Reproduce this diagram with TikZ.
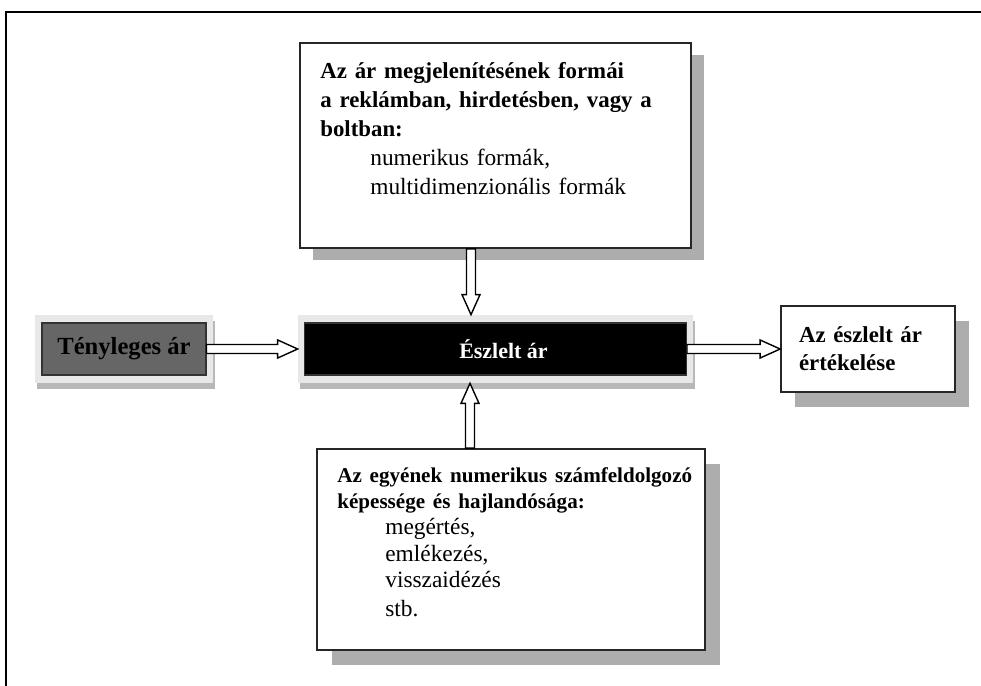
\documentclass[tikz,border=0pt]{standalone}
\usepackage{fontspec}
\setmainfont{Liberation Serif}
\usetikzlibrary{calc,positioning,shadows}

\begin{document}
\begin{tikzpicture}[x=0.02cm, y=-0.02cm,
doboz/.style={draw=black!85, line width=1pt, fill=white, inner sep=0pt},
arnyek/.style 2 args={drop shadow={shadow xshift=#1, shadow yshift=#2, fill=black!32, opacity=1}},
keret/.style={fill=black!9, draw=none, minimum width=#1, minimum height=1.36cm,
  drop shadow={shadow xshift=0.04cm, shadow yshift=-0.12cm, fill=black!28, opacity=1}},
belso/.style={draw=black!80, line width=0.6pt, minimum height=1.04cm},
szoveg/.style={anchor=base west, inner sep=0pt, align=left, text width=8cm},
ures/.style={draw=black, fill=white, line width=0.8pt,
  to path={
    ($(\tikztostart)!0.09cm!90:(\tikztotarget)$)
    -- ($($(\tikztotarget)!0.4cm!(\tikztostart)$)!0.09cm!90:(\tikztotarget)$)
    -- ($($(\tikztotarget)!0.4cm!(\tikztostart)$)!0.18cm!90:(\tikztotarget)$)
    -- (\tikztotarget)
    -- ($($(\tikztotarget)!0.4cm!(\tikztostart)$)!0.18cm!-90:(\tikztotarget)$)
    -- ($($(\tikztotarget)!0.4cm!(\tikztostart)$)!0.09cm!-90:(\tikztotarget)$)
    -- ($(\tikztostart)!0.09cm!-90:(\tikztotarget)$)
    -- cycle}}]
\useasboundingbox (0,0) rectangle (981,686);
\draw[line width=1.3pt] (6,686) -- (6,12) -- (981,12);

% boxes
\node[doboz, arnyek={0.26cm}{-0.24cm}, minimum width=7.82cm, minimum height=4.1cm] (formak) at (495.5,145.5) {};
\node[szoveg, font=\fontsize{13.3}{16.4}\selectfont] (formakszoveg) at (320,79)
  {{\fontsize{13}{16.4}\selectfont\bfseries Az ár megjelenítésének formái\\
   a reklámban, hirdetésben, vagy a\\
   boltban:}\\
   \hspace*{1cm}numerikus formák,\\
   \hspace*{1cm}multidimenzionális formák};

\node[keret=3.56cm] (tenykeret) at (124,349) {};
\node[belso, fill=black!60, minimum width=3.28cm, font=\bfseries\fontsize{14}{16}\selectfont] (teny) at (124,349) {Tényleges ár};
\node[keret=7.9cm] (eszkeret) at (495.5,349) {};
\node[belso, fill=black, text=white, minimum width=7.64cm, font=\bfseries\fontsize{12.5}{15}\selectfont] (eszlelt) at (495.5,349) {\hspace*{0.32cm}Észlelt ár};

\node[doboz, arnyek={0.28cm}{-0.3cm}, minimum width=3.48cm, minimum height=1.72cm,
  text width=2.76cm, align=left, inner xsep=0.36cm, font=\bfseries\fontsize{13}{15.9}\selectfont]
  (ertekeles) at (868,349) {Az észlelt ár\\értékelése};

\node[doboz, arnyek={0.3cm}{-0.3cm}, minimum width=7.76cm, minimum height=4.02cm] (kepesseg) at (511,549.5) {};
\node[szoveg, font=\fontsize{13.3}{15}\selectfont] (kepessegszoveg) at (337,482)
  {{\fontsize{12}{15}\selectfont\bfseries Az egyének numerikus számfeldolgozó\\
   képessége és hajlandósága:}\\
   \hspace*{0.96cm}megértés,\\
   \hspace*{0.96cm}emlékezés,\\
   \hspace*{0.96cm}visszaidézés\\[1.5pt]
   \hspace*{0.96cm}stb.};

% arrows
\draw[ures] (teny.east) to (eszkeret.west);
\draw[ures] (eszlelt.east) to (ertekeles.west);
\draw[ures] ([xshift=-0.49cm]formak.south) to ([xshift=-0.49cm]eszkeret.north);
\draw[ures] ([xshift=-0.82cm]kepesseg.north) to ([xshift=-0.51cm]eszkeret.south);
\end{tikzpicture}
\end{document}
